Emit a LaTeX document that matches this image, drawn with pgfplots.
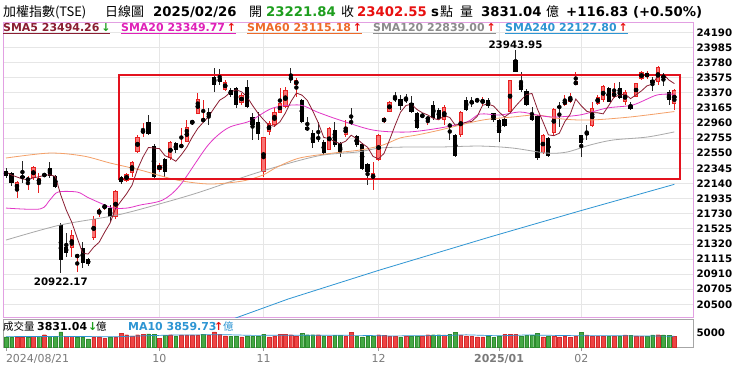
\documentclass[border=0pt]{standalone}
\usepackage{pgfplots}
\pgfplotsset{compat=1.18}
\usepackage{pgfplotstable}
\usepackage{fontspec}
\setmainfont{DejaVu Sans}
\newfontfamily\cjk{Noto Sans CJK TC}

\definecolor{mafive}{HTML}{8B1E32}
\definecolor{matwenty}{HTML}{E236C6}
\definecolor{matwentyt}{HTML}{E020B8}
\definecolor{masixty}{HTML}{F4A068}
\definecolor{masixtyt}{HTML}{EE6A2A}
\definecolor{maonetwenty}{HTML}{A8A8A8}
\definecolor{maonetwentyt}{HTML}{8C8C8C}
\definecolor{matwoforty}{HTML}{2E95D3}
\definecolor{upred}{HTML}{E82020}
\definecolor{upfill}{HTML}{F77474}
\definecolor{vred}{HTML}{EE4444}
\definecolor{vredd}{HTML}{D42A2A}
\definecolor{vgreen}{HTML}{45A845}
\definecolor{vgreend}{HTML}{2E8B2E}
\definecolor{boxred}{HTML}{E3121E}
\definecolor{pborder}{RGB}{226,160,226}
\definecolor{gridc}{HTML}{E6E6E6}
\definecolor{agreen}{HTML}{1E9E1E}
\definecolor{hred}{HTML}{E81010}
\definecolor{datecol}{HTML}{7A7A7A}

\pgfplotstableread{
i o h l c
2 22050 22173 21942 22159
4 22186 22240 22050 22200
5 22213 22376 22186 22363
6 22145 22281 22010 22213
7 22240 22281 22227 22268
12 21264 21507 21142 21440
13 21142 21169 20940 21169
16 21399 21698 21372 21657
17 21738 21806 21684 21779
18 21806 21860 21779 21847
20 21684 22050 21657 22037
22 22173 22281 22159 22268
23 22281 22444 22227 22430
24 22566 22797 22552 22769
25 22824 22959 22769 22864
28 22322 22417 22295 22390
30 22485 22715 22457 22702
32 22634 22892 22634 22661
33 22702 23000 22702 22905
34 22959 23000 22932 22986
35 23081 23366 23081 23285
36 22986 23271 22973 23014
40 23407 23543 23393 23516
43 23231 23366 23204 23339
47 22295 22769 22227 22769
48 22837 22986 22797 22959
49 22932 23176 22905 23109
50 23095 23434 23095 23231
51 23176 23448 23163 23407
53 23475 23570 23312 23543
59 22593 22905 22593 22892
62 22797 23000 22769 22905
67 22186 22430 22050 22281
68 22457 22810 22444 22797
69 22973 23041 22959 23027
70 23109 23258 23109 23244
77 23000 23041 22932 23041
80 23000 23204 22932 23176
83 22797 23122 22769 23109
87 23231 23312 23204 23271
92 23109 23543 23095 23543
98 22552 22810 22539 22797
100 22824 23163 22797 23149
102 23204 23339 23190 23271
103 23244 23366 23231 23312
104 23475 23651 23475 23529
107 22919 23244 22905 23163
108 23217 23339 23204 23312
109 23271 23475 23244 23461
111 23312 23502 23298 23380
113 23244 23407 23204 23380
115 23312 23502 23312 23502
116 23556 23665 23543 23651
117 23583 23665 23556 23638
119 23516 23733 23475 23719
122 23221.84 23420 23130 23402.55
}\upc

\pgfplotstableread{
i o h l c
0 22308 22349 22213 22240
1 22281 22295 22105 22145
3 22240 22444 22145 22213
8 22349 22430 22213 22240
9 22240 22254 22078 22091
10 21576 21603 20922.17 21101
11 21277 21467 21142 21196
14 21264 21345 20992 21060
15 21114 21128 21020 21047
19 21806 21847 21616 21684
21 22227 22240 22132 22159
26 22973 23068 22797 22810
27 22647 22675 22213 22227
29 22471 22485 22227 22295
31 22688 22702 22552 22593
37 23109 23163 22932 23054
38 23583 23706 23380 23475
39 23570 23692 23475 23516
41 23407 23434 23312 23339
42 23434 23448 23163 23204
44 23448 23543 23163 23176
45 23041 23095 22729 22932
46 22973 23109 22729 22810
52 23583 23706 23502 23543
54 23271 23285 22959 22973
55 22905 23041 22851 22864
56 22824 22864 22620 22688
57 22769 22973 22702 22742
58 22702 22729 22525 22552
60 22864 22973 22634 22661
61 22688 22702 22498 22552
63 22986 23163 22932 22959
64 22783 22797 22634 22661
65 22675 22688 22322 22335
66 22403 22417 22118 22295
71 23312 23380 23244 23271
72 23285 23339 23136 23190
73 23298 23353 23231 23258
74 23231 23325 23095 23109
75 23095 23109 22878 22892
76 23068 23095 23027 23041
78 23204 23258 23000 23027
79 23136 23163 23000 23014
81 22932 22959 22729 22919
82 22797 22810 22498 22512
84 23271 23312 23122 23136
85 23244 23312 23176 23231
86 23271 23298 23244 23258
88 23271 23298 23163 23190
89 23095 23095 22973 23000
90 23000 23014 22702 22824
91 23014 23027 22905 22919
93 23814 23943.95 23651 23651
94 23516 23651 23380 23407
95 23393 23421 23190 23204
96 23054 23176 22986 23000
97 23054 23068 22457 22485
99 22756 22769 22498 22512
101 23190 23244 22905 23163
105 22797 22797 22498 22688
106 22837 22932 22729 22797
110 23434 23448 23244 23244
112 23434 23516 23285 23298
114 23204 23244 23136 23149
118 23543 23583 23393 23502
120 23597 23638 23461 23583
121 23380 23407 23204 23271
}\dnc

\pgfplotstableread{
i v
0 22295
1 22254
2 22227
3 22200
4 22192
5 22216
6 22230
7 22251
8 22257
9 22235
10 21983
11 21779
12 21614
13 21399
14 21193
15 21182
16 21275
17 21342
18 21478
19 21603
20 21801
21 21901
22 21999
23 22116
24 22333
25 22498
26 22628
27 22620
28 22612
29 22517
30 22485
31 22441
32 22528
33 22631
34 22769
35 22886
36 22970
37 23049
38 23163
39 23269
40 23315
41 23380
42 23410
43 23383
44 23315
45 23198
46 23092
47 23005
48 22930
49 22916
50 22976
51 23095
52 23250
53 23366
54 23339
55 23266
56 23122
57 22962
58 22764
59 22748
60 22707
61 22680
62 22713
63 22794
64 22748
65 22683
66 22631
67 22506
68 22474
69 22547
70 22729
71 22924
72 23106
73 23198
74 23214
75 23144
76 23098
77 23068
78 23022
79 23003
80 23060
81 23035
82 22930
83 22946
84 22970
85 22981
86 23049
87 23201
88 23217
89 23190
90 23109
91 23041
92 23095
93 23187
94 23269
95 23345
96 23361
97 23149
98 22978
99 22799
100 22788
101 22821
102 22978
103 23081
104 23285
105 23193
106 23119
107 23098
108 23098
109 23084
110 23195
111 23312
112 23339
113 23353
114 23290
115 23342
116 23396
117 23464
118 23488
119 23602
120 23619
121 23543
122 23494.26
}\smafive

\pgfplotstableread{
i v
0 21806
6.2 21793
8 21915
9.5 22023
13 22023
14.8 21955
17.2 21874
19.5 21806
22.1 21806
24.5 21847
28.6 21915
31.8 22118
36.9 22661
40.5 22892
44.5 22986
48.7 23163
53.6 23204
56.8 23109
60.9 23000
67 22864
73.2 22837
79.2 22892
84.1 22973
86.5 23081
90.1 23068
93.8 23109
96.9 23068
99.8 23041
104.7 23068
109.7 23163
114.4 23204
118.8 23339
122 23349.77
}\smatwenty

\pgfplotstableread{
i v
0 22485
8 22552
14.1 22512
19 22417
24.5 22322
31.2 22186
37.2 22132
43.2 22173
46.9 22254
49.5 22363
53.6 22485
59.7 22552
64.6 22593
68.8 22661
71.9 22756
75 22797
79.2 22864
85.2 22973
88.3 23014
92.5 23041
96.9 23068
101.6 23014
106.6 23000
113.9 23041
122 23115.18
}\smasixty

\pgfplotstableread{
i v
0 21372
9.9 21576
20.3 21711
28.6 21874
35.4 22023
44.5 22254
51.8 22417
57.8 22525
64.1 22566
68.2 22620
73.2 22634
79.2 22634
86.5 22647
92.5 22620
98.7 22552
102.4 22566
106.6 22661
110.8 22729
117 22769
122 22839
}\smaonetwenty

\pgfplotstableread{
i v
40.9 20287
51.5 20572
68.2 20965
88.3 21413
104.7 21766
122 22127.8
}\smatwoforty

\pgfplotstableread{
i v
2 3600
3 3600
5 3800
7 4400
11 3800
12 3800
16 3600
17 3600
18 3200
20 3600
21 5000
22 4400
23 4000
24 4400
25 4600
28 3200
30 4400
32 4300
33 4300
34 4300
35 4300
37 4300
38 5400
39 4600
40 4000
43 3600
48 3600
49 4000
50 4600
51 4600
52 4400
53 3800
57 4400
59 3800
62 3800
63 5200
68 4400
69 4200
70 3800
71 3800
73 3700
76 3800
77 4400
80 4300
83 4300
84 4000
85 3800
86 3600
87 3600
91 4500
92 4600
93 4500
98 3600
100 3800
101 3600
102 3700
103 3500
104 3800
106 4300
107 3900
108 3800
109 3800
111 3800
113 4300
115 4000
116 3900
119 4400
122 3831.04
}\volr

\pgfplotstableread{
i v
0 3600
1 3600
4 3600
6 3800
8 3800
9 3800
10 5400
13 3600
14 3600
15 2900
19 3600
26 4700
27 4600
29 4200
31 4000
36 4600
41 3800
42 3800
44 3800
45 3800
46 3800
47 4600
54 5000
55 4400
56 4400
58 4000
60 4200
61 4200
64 3800
65 3600
66 3700
67 3800
72 3600
74 3700
75 3800
78 4400
79 4400
81 4600
82 5200
88 3700
89 3500
90 4000
94 4000
95 4100
96 4200
97 4900
99 3800
105 5300
110 3700
112 4000
114 4200
117 3800
118 4300
120 4300
121 4200
}\volg

\pgfplotstableread{
i v
0 3700
10 3800
20 3650
25 4000
30 4250
40 4400
45 4150
55 4200
65 4150
70 3950
80 4100
84 4350
90 4000
95 4300
100 4150
106 4000
110 4050
115 3950
122 3859.73
}\volma

\newcommand{\hdrn}{\fontsize{13.3}{16}\selectfont\bfseries}
\newcommand{\hdrc}{\cjk\fontsize{13}{16}\selectfont}
\newcommand{\lgf}{\fontsize{11}{13}\selectfont\bfseries}
\newcommand{\lcj}{\cjk\fontsize{10.5}{12}\selectfont}

\begin{document}
\begin{tikzpicture}[x=1bp,y=1bp]
\path[use as bounding box, fill=white] (0,0) rectangle (740,367);

\begin{axis}[
  at={(3bp,50bp)}, anchor=south west, scale only axis,
  width=690bp, height=295bp,
  xmin=-0.55, xmax=125.4, ymin=20328, ymax=24330,
  scaled y ticks=false, scaled x ticks=false,
  axis line style={draw=pborder, line width=0.9bp},
  ytick={20500,20705,20910,21115,21320,21525,21730,21935,22140,22345,22550,22755,22960,23165,23370,23575,23780,23985,24190},
  yticklabels={20500,20705,20910,21115,21320,21525,21730,21935,22140,22345,22550,22755,22960,23165,23370,23575,23780,23985,24190},
  yticklabel pos=right,
  yticklabel style={font=\fontsize{10.3}{12}\selectfont\bfseries, text=black},
  xtick={28,47,68,90,105}, xticklabels={},
  major tick length=0pt, tick style={draw=none},
  grid=major, major grid style={draw=gridc, line width=0.6bp},
]
% wicks
\addplot[only marks, mark=none, forget plot, error bars/.cd, y dir=both, y explicit, error mark=none,
  error bar style={draw=upred, line width=0.8bp}]
  table[x=i, y expr={(\thisrow{h}+\thisrow{l})/2}, y error expr={(\thisrow{h}-\thisrow{l})/2}] {\upc};
\addplot[only marks, mark=none, forget plot, error bars/.cd, y dir=both, y explicit, error mark=none,
  error bar style={draw=black!85, line width=0.8bp}]
  table[x=i, y expr={(\thisrow{h}+\thisrow{l})/2}, y error expr={(\thisrow{h}-\thisrow{l})/2}] {\dnc};
% bodies
\addplot[only marks, mark=none, forget plot, error bars/.cd, y dir=both, y explicit, error mark=none,
  error bar style={draw=upred, line width=4.2bp}]
  table[x=i, y expr={(\thisrow{o}+\thisrow{c})/2}, y error expr={max(abs(\thisrow{c}-\thisrow{o})/2,7)}] {\upc};
\addplot[only marks, mark=none, forget plot, error bars/.cd, y dir=both, y explicit, error mark=none,
  error bar style={draw=upfill, line width=2.4bp}]
  table[x=i, y expr={(\thisrow{o}+\thisrow{c})/2}, y error expr={max(abs(\thisrow{c}-\thisrow{o})/2-11,0)}] {\upc};
\addplot[only marks, mark=none, forget plot, error bars/.cd, y dir=both, y explicit, error mark=none,
  error bar style={draw=black, line width=4.2bp}]
  table[x=i, y expr={(\thisrow{o}+\thisrow{c})/2}, y error expr={max(abs(\thisrow{c}-\thisrow{o})/2,7)}] {\dnc};
% moving averages
\addplot[draw=matwoforty, line width=0.8bp, mark=none] table[x=i,y=v] {\smatwoforty};
\addplot[draw=maonetwenty, line width=0.8bp, mark=none, smooth] table[x=i,y=v] {\smaonetwenty};
\addplot[draw=masixty, line width=0.8bp, mark=none, smooth] table[x=i,y=v] {\smasixty};
\addplot[draw=matwenty, line width=0.8bp, mark=none, smooth] table[x=i,y=v] {\smatwenty};
\addplot[draw=mafive, line width=0.8bp, mark=none] table[x=i,y=v] {\smafive};
% annotations
\draw[boxred, line width=2.6bp] (axis cs:20.6,23611) rectangle (axis cs:123,22200);
\node[anchor=south, inner sep=1bp, font=\fontsize{10.3}{12}\selectfont\bfseries] at (axis cs:93,23950) {23943.95};
\node[anchor=north, inner sep=1bp, font=\fontsize{10.3}{12}\selectfont\bfseries] at (axis cs:10,20880) {20922.17};
\end{axis}

\begin{axis}[
  at={(3bp,20bp)}, anchor=south west, scale only axis,
  width=690bp, height=28bp,
  xmin=-0.55, xmax=125.4, ymin=0, ymax=10000,
  scaled y ticks=false, scaled x ticks=false,
  axis line style={draw=black!35, line width=0.8bp},
  ytick={5000}, yticklabels={5000}, yticklabel pos=right,
  yticklabel style={font=\fontsize{10.3}{12}\selectfont\bfseries, text=black},
  ytick style={draw=none},
  xtick={0,28,47,68,90,105},
  xticklabels={\makebox[0pt][l]{2024/08/21},10,11,12,\textbf{2025/01},02},
  xtick pos=left, xtick align=outside, major tick length=4bp,
  xtick style={draw=black!40, line width=0.8bp},
  xticklabel style={font=\fontsize{11}{13}\selectfont, text=datecol},
]
\addplot[ybar, bar width=3.6bp, bar shift=0pt, fill=vred, draw=vredd, line width=0.3bp] table[x=i,y=v] {\volr};
\addplot[ybar, bar width=3.6bp, bar shift=0pt, fill=vgreen, draw=vgreend, line width=0.3bp] table[x=i,y=v] {\volg};
\addplot[draw=matwoforty, line width=0.7bp, mark=none] table[x=i,y=v] {\volma};
\end{axis}

% header row
\node[anchor=base west, inner sep=0] at (3,350.5) {\hdrc 加權指數(TSE)};
\node[anchor=base west, inner sep=0] at (105,350.5) {\hdrc 日線圖};
\node[anchor=base west, inner sep=0] at (153,350.5) {\hdrn 2025/02/26};
\node[anchor=base west, inner sep=0] at (249,350.5) {\hdrc 開};
\node[anchor=base west, inner sep=0] at (266,350.5) {\hdrn\color{agreen}23221.84};
\node[anchor=base west, inner sep=0] at (341,350.5) {\hdrc 收};
\node[anchor=base west, inner sep=0] at (357,350.5) {\hdrn\color{hred}23402.55};
\node[anchor=base west, inner sep=0] at (431,350.5) {\hdrn s};
\node[anchor=base west, inner sep=0] at (440,350.5) {\hdrc 點};
\node[anchor=base west, inner sep=0] at (460,350.5) {\hdrc 量};
\node[anchor=base west, inner sep=0] at (481,350.5) {\hdrn 3831.04};
\node[anchor=base west, inner sep=0] at (546,350.5) {\hdrc 億};
\node[anchor=base west, inner sep=0] at (566,350.5) {\hdrn +116.83 (+0.50\%)};
% MA legend row
\node[anchor=base west, inner sep=0] at (3,335.5) {\lgf\color{mafive}\underline{SMA5 23494.26\,\textcolor{agreen}{↓}}};
\node[anchor=base west, inner sep=0] at (121,335.5) {\lgf\color{matwentyt}\underline{SMA20 23349.77\,\textcolor{hred}{↑}}};
\node[anchor=base west, inner sep=0] at (247,335.5) {\lgf\color{masixtyt}\underline{SMA60 23115.18\,\textcolor{hred}{↑}}};
\node[anchor=base west, inner sep=0] at (373,335.5) {\lgf\color{maonetwentyt}\underline{SMA120 22839.00\,\textcolor{hred}{↑}}};
\node[anchor=base west, inner sep=0] at (505,335.5) {\lgf\color{matwoforty}\underline{SMA240 22127.80\,\textcolor{hred}{↑}}};
% volume legend
\node[anchor=base west, inner sep=0] at (3,37) {\lcj 成交量};
\node[anchor=base west, inner sep=0] at (37,37) {\lgf 3831.04};
\node[anchor=base west, inner sep=0] at (88,37) {\lgf\color{agreen}↓};
\node[anchor=base west, inner sep=0] at (96,37) {\lcj 億};
\node[anchor=base west, inner sep=0] at (128,37) {\lgf\color{matwoforty}MA10 3859.73};
\node[anchor=base west, inner sep=0] at (214,37) {\lgf\color{hred}↑};
\node[anchor=base west, inner sep=0] at (223,37) {\lcj\color{matwoforty}億};
\end{tikzpicture}
\end{document}
